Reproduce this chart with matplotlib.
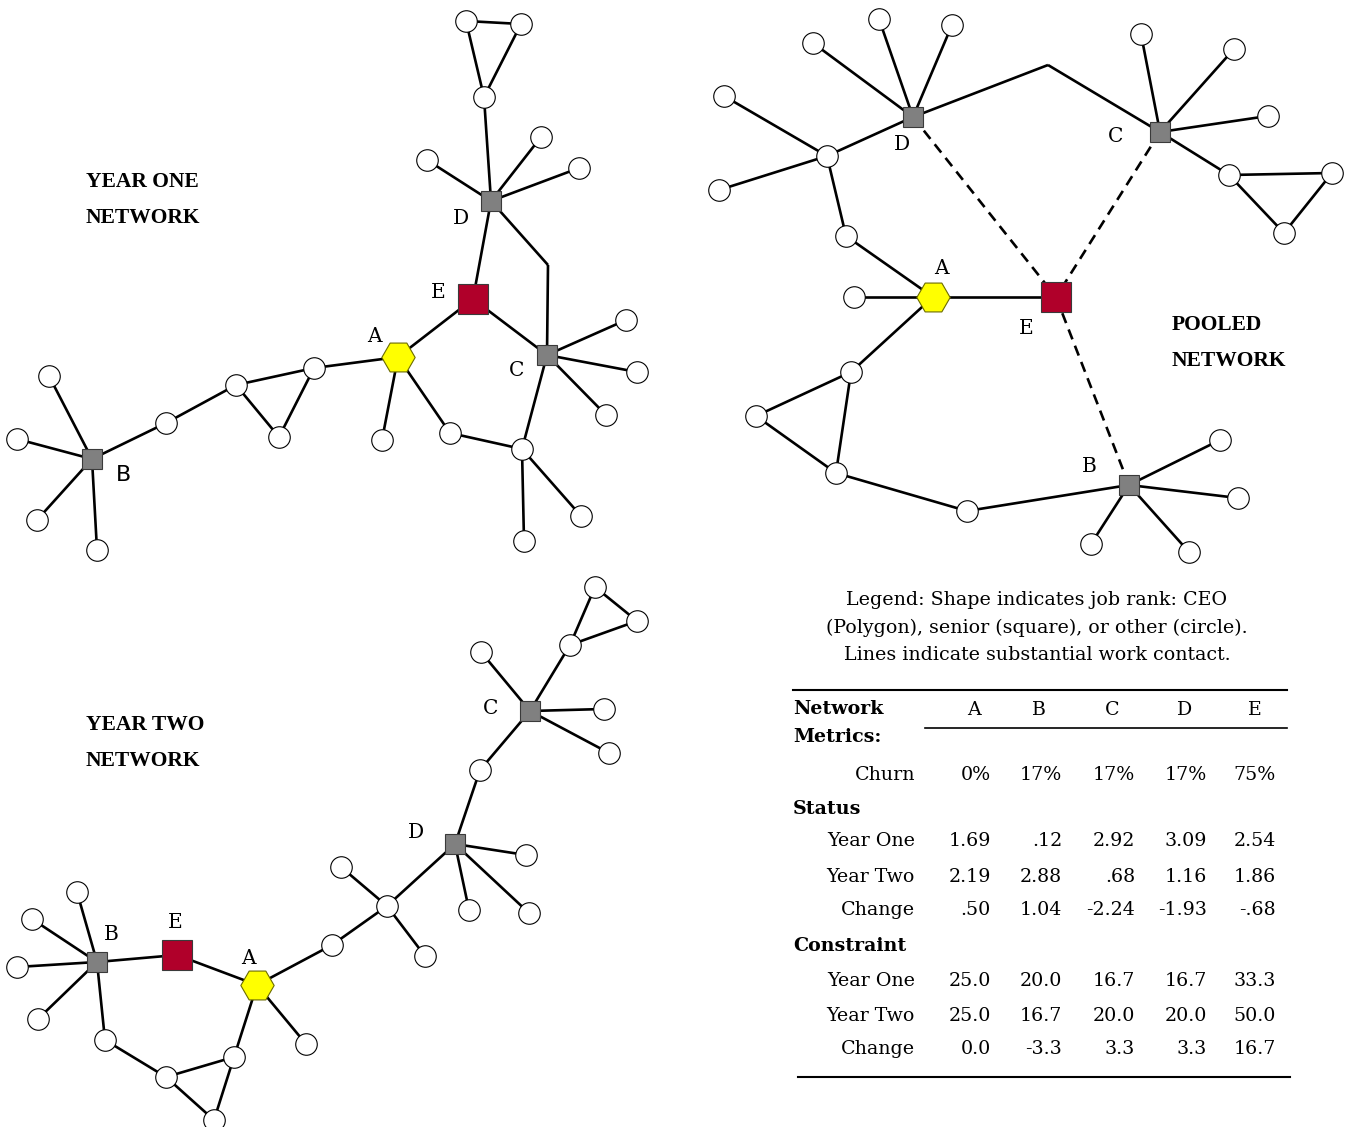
import matplotlib
matplotlib.use("Agg")
import matplotlib.pyplot as plt

# node kinds: o = other (circle), s = senior (grey square), e = senior E (red square),
# h = CEO (hexagon), b = bend point of an edge (not drawn)

# ---- year one network ----
y1_x = [466, 521, 484, 491, 427, 541, 579, 473, 548, 547, 626, 637, 606, 398,
        382, 450, 522, 524, 581, 314, 236, 279, 166, 92, 49, 17, 37, 97]
y1_y = [21, 24, 97, 201, 160, 137, 168, 299, 265, 355, 320, 372, 415, 357,
        440, 433, 449, 541, 516, 368, 385, 437, 423, 459, 376, 439, 520, 550]
y1_kind = "ooosoooebsoooh" + "o" * 9 + "s" + "oooo"
y1_edges = [(0, 1), (1, 2), (2, 0), (2, 3), (3, 4), (3, 5), (3, 6), (3, 7),
            (3, 8), (8, 9), (7, 9), (7, 13), (9, 10), (9, 11), (9, 12), (9, 16),
            (13, 14), (13, 15), (15, 16), (16, 17), (16, 18), (13, 19),
            (19, 20), (20, 21), (21, 19), (20, 22), (22, 23), (23, 24),
            (23, 25), (23, 26), (23, 27)]
y1_labels = {3: ("D", -30, 18), 7: ("E", -35, -6), 13: ("A", -24, -21),
             9: ("C", -30, 16)}

# ---- pooled network ----
pl_x = [913, 813, 879, 952, 827, 724, 719, 846, 1048, 1160, 1141, 1234, 1268,
        1229, 1332, 1284, 933, 854, 1056, 851, 756, 836, 967, 1129, 1220,
        1238, 1189, 1091]
pl_y = [117, 43, 19, 25, 156, 96, 190, 236, 65, 132, 34, 49, 116, 175, 173,
        233, 297, 297, 297, 372, 416, 473, 511, 485, 440, 498, 552, 544]
pl_kind = "s" + "o" * 7 + "bs" + "o" * 6 + "hoe" + "o" * 4 + "s" + "o" * 4
pl_edges = [(0, 1), (0, 2), (0, 3), (0, 4), (4, 5), (4, 6), (4, 7), (7, 16),
            (0, 8), (8, 9), (9, 10), (9, 11), (9, 12), (9, 13), (13, 14),
            (14, 15), (15, 13), (16, 17), (16, 18), (16, 19), (19, 20),
            (20, 21), (21, 19), (21, 22), (22, 23), (23, 24), (23, 25),
            (23, 26), (23, 27)]
pl_dashed = [(0, 18), (9, 18), (18, 23)]
pl_labels = {0: ("D", -11, 27), 9: ("C", -44, 5), 16: ("A", 8, -29),
             18: ("E", -30, 31), 23: ("B", -40, -19)}

# ---- year two network ----
y2_x = [595, 637, 570, 530, 481, 604, 609, 480, 455, 526, 469, 529, 387, 341,
        425, 332, 257, 306, 234, 177, 97, 77, 32, 17, 38, 105, 166, 214]
y2_y = [587, 621, 645, 711, 652, 709, 753, 770, 844, 855, 910, 913, 906, 867,
        956, 945, 985, 1044, 1057, 955, 962, 892, 919, 967, 1019, 1040, 1077,
        1120]
y2_kind = "ooos" + "oooo" + "s" + "o" * 7 + "hoo" + "es" + "o" * 7
y2_edges = [(0, 1), (1, 2), (2, 0), (2, 3), (3, 4), (3, 5), (3, 6), (3, 7),
            (7, 8), (8, 9), (8, 10), (8, 11), (8, 12), (12, 13), (12, 14),
            (12, 15), (15, 16), (16, 17), (16, 18), (16, 19), (19, 20),
            (20, 21), (20, 22), (20, 23), (20, 24), (20, 25), (25, 26),
            (26, 18), (26, 27), (27, 18)]
y2_labels = {3: ("C", -39, -2), 8: ("D", -39, -12), 19: ("E", -2, -32),
             20: ("B", 14, -28), 16: ("A", -9, -27)}

# ---- metrics table ----
people = ["A", "B", "C", "D", "E"]
churn = ["0%", "17%", "17%", "17%", "75%"]
status_y1 = ["1.69", ".12", "2.92", "3.09", "2.54"]
status_y2 = ["2.19", "2.88", ".68", "1.16", "1.86"]
status_chg = [".50", "1.04", "-2.24", "-1.93", "-.68"]
constr_y1 = ["25.0", "20.0", "16.7", "16.7", "33.3"]
constr_y2 = ["25.0", "16.7", "20.0", "20.0", "50.0"]
constr_chg = ["0.0", "-3.3", "3.3", "3.3", "16.7"]

SERIF = "DejaVu Serif"
TITLE = "Liberation Serif"
LW = 1.9
FS = 13.7

fig = plt.figure(figsize=(13.46, 11.27), dpi=100)
ax = fig.add_axes([0, 0, 1, 1])
ax.set_xlim(0, 1346)
ax.set_ylim(1127, 0)
ax.axis("off")


def draw_network(xs, ys, kinds, edges, labels, dashed=()):
    for i, j in edges:
        ax.plot([xs[i], xs[j]], [ys[i], ys[j]], color="black", lw=LW,
                solid_capstyle="butt", zorder=1)
    for i, j in dashed:
        ax.plot([xs[i], xs[j]], [ys[i], ys[j]], color="black", lw=LW,
                ls=(0, (4, 2.6)), zorder=1)
    for x, y, k in zip(xs, ys, kinds):
        if k == "o":
            ax.plot(x, y, "o", ms=15.5, mfc="white", mec="black", mew=0.8, zorder=3)
        elif k == "s":
            ax.plot(x, y, "s", ms=14, mfc="#808080", mec="#3a3a3a", mew=0.8, zorder=3)
        elif k == "e":
            ax.plot(x, y, "s", ms=21, mfc="#B0002A", mec="#3a3a3a", mew=0.8, zorder=3)
        elif k == "h":
            ax.plot(x, y, "H", ms=24, mfc="#FFFF00", mec="#6b6b00", mew=0.8, zorder=3)
    for i, (txt, dx, dy) in labels.items():
        ax.text(xs[i] + dx, ys[i] + dy, txt, family=SERIF, fontsize=14.5,
                ha="center", va="center", zorder=4)


draw_network(y1_x, y1_y, y1_kind, y1_edges, y1_labels)
ax.text(123, 475, "B", family="DejaVu Sans", fontsize=16, ha="center", va="center")
draw_network(pl_x, pl_y, pl_kind, pl_edges, pl_labels, pl_dashed)
draw_network(y2_x, y2_y, y2_kind, y2_edges, y2_labels)

# panel titles
for lines, x, y in [(("YEAR ONE", "NETWORK"), 86, 182),
                    (("POOLED", "NETWORK"), 1172, 325),
                    (("YEAR TWO", "NETWORK"), 86, 725)]:
    for k, line in enumerate(lines):
        ax.text(x, y + 36 * k, line, family=TITLE, weight="bold", fontsize=15.5,
                ha="left", va="center")

# legend text
legend_lines = ["Legend: Shape indicates job rank: CEO",
                "(Polygon), senior (square), or other (circle).",
                "Lines indicate substantial work contact."]
for k, line in enumerate(legend_lines):
    ax.text(1037, 600 + 27.5 * k, line, family=SERIF, fontsize=FS,
            ha="center", va="center")

# metrics table
head_x = [974, 1038, 1112, 1184, 1254]
col_x = [991, 1062, 1135, 1207, 1276]
ax.plot([793, 1287], [690, 690], color="black", lw=1.5)
ax.plot([925, 1287], [728, 728], color="black", lw=1.2)
ax.plot([798, 1290], [1077, 1077], color="black", lw=1.5)
ax.text(793, 709, "Network", family=SERIF, weight="bold", fontsize=FS, va="center")
ax.text(793, 737, "Metrics:", family=SERIF, weight="bold", fontsize=FS, va="center")
for x, p in zip(head_x, people):
    ax.text(x, 710, p, family=SERIF, fontsize=FS, ha="center", va="center")

ax.text(793, 809, "Status", family=SERIF, weight="bold", fontsize=FS, va="center")
ax.text(793, 946, "Constraint", family=SERIF, weight="bold", fontsize=FS, va="center")

rows = [("Churn", 775, churn),
        ("Year One", 841, status_y1),
        ("Year Two", 877, status_y2),
        ("Change", 910, status_chg),
        ("Year One", 981, constr_y1),
        ("Year Two", 1016, constr_y2),
        ("Change", 1049, constr_chg)]
for name, y, vals in rows:
    ax.text(915, y, name, family=SERIF, fontsize=FS, ha="right", va="center")
    for x, v in zip(col_x, vals):
        ax.text(x, y, v, family=SERIF, fontsize=FS, ha="right", va="center")

fig.savefig("out.png", dpi=100, facecolor="white")
